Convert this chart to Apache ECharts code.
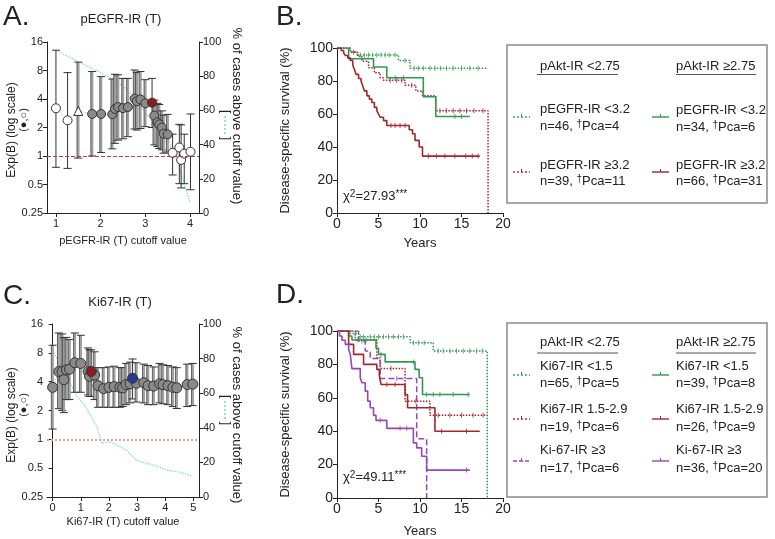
<!DOCTYPE html>
<html>
<head>
<meta charset="utf-8">
<script src="https://cdn.jsdelivr.net/npm/echarts@6/dist/echarts.min.js"></script>
<style>
  html, body { margin: 0; padding: 0; background: #fff; }
  #chart { width: 775px; height: 539px; }
</style>
</head>
<body>
<div id="chart"></div>
<script>
var FONT = '"Liberation Sans", Arial, Helvetica, sans-serif';

// ---- A: pEGFR-IR (T) cutoff scan
var aCut  = [1.0, 1.26, 1.5, 1.81, 2.01, 2.26, 2.32, 2.39, 2.5, 2.61, 2.76, 2.81, 2.89, 3.0, 3.15, 3.2, 3.27, 3.31, 3.37, 3.41, 3.5, 3.61, 3.76, 3.8, 3.87, 4.01];
var aExpB = [3.19, 2.38, 2.99, 2.78, 2.78, 2.76, 3.14, 3.29, 3.2, 3.29, 4.03, 3.78, 3.96, 3.6, 3.66, 2.67, 2.27, 2.16, 1.99, 1.72, 1.69, 1.08, 1.23, 0.91, 1.06, 1.11];
var aLow  = [0.76, 0.74, 0.95, 1.0, 1.09, 1.19, 1.36, 1.47, 1.52, 1.6, 1.93, 1.88, 1.95, 2.04, 2.0, 1.31, 1.26, 1.2, 1.16, 1.07, 1.1, 0.63, 0.51, 0.46, 0.51, 0.44];
var aHigh = [13.1, 7.6, 9.8, 7.8, 6.9, 6.5, 7.3, 7.2, 6.6, 6.6, 8.1, 7.6, 7.8, 6.4, 6.6, 3.9, 3.6, 3.5, 3.0, 2.7, 2.75, 1.7, 2.16, 2.13, 1.7, 2.78];
var aKind = ['open', 'open', 'tri', 'gray', 'gray', 'gray', 'gray', 'gray', 'gray', 'gray', 'gray', 'gray', 'gray', 'gray', 'red',
             'gray', 'gray', 'gray', 'gray', 'gray', 'gray', 'open', 'open', 'open', 'open', 'open'];
var aPctX = [1.0, 1.93, 2.29, 2.6, 2.9, 3.2, 3.33, 3.5, 3.71, 3.82, 4.0];
var aPct  = [95, 83, 78, 72, 62, 52, 47, 40, 33, 21, 6];

// ---- C: Ki67-IR (T) cutoff scan
var cCut  = [0, 0.22, 0.34, 0.40, 0.49, 0.60, 0.79, 1.0, 1.26, 1.31, 1.37, 1.49, 1.61, 1.81, 2.0, 2.19, 2.39, 2.49, 2.61, 2.75, 2.84, 2.98, 3.24, 3.39, 3.59, 3.80, 3.92, 4.10, 4.27, 4.41, 4.78, 4.98];
var cExpB = [3.49, 5.1, 5.1, 4.2, 5.3, 5.4, 6.3, 6.2, 5.1, 4.55, 5.1, 4.7, 3.63, 3.38, 3.49, 3.55, 3.49, 3.45, 3.73, 3.8, 4.34, 3.85, 3.9, 3.63, 3.6, 3.8, 3.72, 3.63, 3.49, 3.45, 3.73, 3.77];
var cLow  = [1.28, 2.09, 2.0, 1.9, 2.6, 2.6, 3.1, 3.1, 2.9, 2.8, 2.8, 2.6, 2.16, 2.16, 2.16, 2.16, 2.16, 2.2, 2.3, 2.4, 2.64, 2.45, 2.4, 2.3, 2.3, 2.4, 2.35, 2.3, 2.2, 2.1, 2.2, 2.25];
var cHigh = [9.6, 12.9, 12.6, 11.5, 11.6, 11.0, 12.9, 12.2, 9.0, 8.6, 8.6, 8.2, 5.6, 5.6, 5.7, 5.8, 5.6, 5.6, 6.2, 6.4, 6.9, 6.3, 6.1, 5.9, 5.7, 6.2, 6.0, 5.9, 5.7, 5.6, 6.1, 6.2];
var cKind = ['gray', 'gray', 'gray', 'gray', 'gray', 'gray', 'gray', 'gray', 'gray', 'gray', 'red', 'gray', 'gray', 'gray', 'gray', 'gray',
             'gray', 'gray', 'gray', 'gray', 'blue', 'gray', 'gray', 'gray', 'gray', 'gray', 'gray', 'gray', 'gray', 'gray', 'gray', 'gray'];
var cPctX = [0, 0.40, 0.87, 1.1, 1.58, 1.75, 2.05, 2.63, 2.99, 3.69, 4.04, 4.5, 4.97];
var cPct  = [84.7, 73, 58, 54, 40.6, 31, 32, 27, 21, 18, 15.5, 14.5, 12];

// ---- B: survival by pAkt / pEGFR
var bGrnDotT = [0, 1.6, 2.4, 7.4, 8.8, 18.2];
var bGrnDotS = [100, 97.8, 95.7, 92.5, 87.7, 87.7];
var bGrnDotC = [2.8, 3.3, 3.8, 4.3, 4.8, 5.3, 5.8, 6.3, 7.0, 8.2, 9.3, 9.8, 10.4, 11.2, 11.8, 12.5, 13.2, 14.0, 15.0, 16.0, 17.0];
var bGrnSolT = [0, 1.4, 4.4, 6.0, 10.4, 11.9, 16.0];
var bGrnSolS = [100, 93.5, 88.5, 82, 70.5, 58.5, 58.5];
var bGrnSolC = [7.0, 8.0, 14.2, 15.0];
var bRedDotT = [0, 1.6, 2.5, 3.0, 3.8, 4.5, 5.2, 5.6, 8.2, 9.5, 10.3, 11.9, 18.2, 18.2];
var bRedDotS = [100, 97.5, 95, 92, 88, 85, 82, 80.5, 77.5, 74, 71, 62, 62, 0];
var bRedDotC = [2.0, 6.4, 7.2, 7.8, 9.0, 12.4, 13.2, 14.0, 14.8, 15.6, 16.5, 17.6];
var bRedSolT = [0, 0.5, 0.8, 1.0, 1.3, 1.6, 1.9, 2.1, 2.3, 2.6, 2.9, 3.1, 3.3, 3.6, 3.9, 4.2, 4.5, 4.8, 5.0, 5.2, 5.6, 6.0, 8.7, 9.1, 9.4, 9.9, 10.3, 17.2];
var bRedSolS = [100, 98.5, 97, 95.5, 94, 92.5, 89.5, 87, 84, 81.5, 80, 77, 74, 71, 69, 67, 64, 62, 60, 58, 56, 53, 50.5, 48, 44, 40, 34.5, 34.5];
var bRedSolC = [6.5, 7.0, 7.6, 8.2, 11.0, 12.0, 13.0, 14.2, 15.5, 16.3, 17.0];

// ---- D: survival by pAkt / Ki67
var dGrnDotT = [0, 1.4, 2.6, 8.8, 11.6, 18.1, 18.1];
var dGrnDotS = [100, 98.5, 96.5, 93, 88, 88, 0];
var dGrnDotC = [2.2, 2.8, 3.2, 4.0, 4.5, 5.0, 5.6, 6.2, 6.8, 7.4, 8.0, 9.2, 9.8, 10.5, 12.2, 12.8, 13.6, 14.4, 15.2, 16.0, 16.8, 17.5];
var dGrnSolT = [0, 1.4, 1.8, 4.7, 5.0, 5.8, 9.4, 9.9, 10.3, 16.0];
var dGrnSolS = [100, 97, 94.6, 89.7, 86, 81.5, 77, 72, 62, 62];
var dGrnSolC = [2.5, 3.5, 5.3, 9.2, 10.8, 11.6, 12.4, 14.0, 15.8];
var dRedSolT = [0, 1.4, 2.0, 3.2, 4.8, 5.1, 5.3, 8.2, 8.5, 11.8, 17.2];
var dRedSolS = [100, 92, 86, 80, 77, 73.5, 68, 62, 54, 40, 40];
var dRedSolC = [6.0, 7.0, 12.6, 15.6];
var dRedDotT = [0, 2.2, 4.8, 5.2, 8.2, 11.2, 18.1];
var dRedDotS = [100, 94.7, 84, 77.6, 58, 49.5, 49.5];
var dRedDotC = [6.5, 9.5, 12.2, 13.6, 15.0, 16.4, 17.6];
var dPurSolT = [0, 0.3, 0.6, 1.0, 1.4, 1.6, 1.8, 2.8, 3.0, 3.4, 3.7, 4.0, 4.4, 4.7, 6.0, 9.2, 9.6, 10.2, 10.8, 16.0];
var dPurSolS = [100, 97, 94.5, 92, 89, 86, 77.5, 72, 69, 64, 58, 54, 49.5, 46.5, 41.7, 33, 30, 25, 16.7, 16.7];
var dPurSolC = [5.2, 7.6, 8.4, 15.6];
var dPurDshT = [0, 2.6, 3.4, 4.0, 5.2, 9.6, 10.8, 10.8];
var dPurDshS = [100, 94, 88, 83.5, 71.5, 35.5, 35.5, 0];
var dPurDshC = [3.0, 7.2];

var GREEN = '#2e9a50', RED = '#a3262c', PURPLE = '#9547b3', CYAN = '#7fd6cf';

function pairs(xs, ys) {
  return xs.map(function (x, i) { return [x, ys[i]]; });
}
function pick(xs, ys, kinds, k) {
  var out = [];
  for (var i = 0; i < xs.length; i++) if (kinds[i] === k) out.push([xs[i], ys[i]]);
  return out;
}
function survAt(T, S, t) {
  var s = S[0];
  for (var i = 0; i < T.length; i++) { if (T[i] <= t) s = S[i]; else break; }
  return s;
}

var axisLineStyle = { show: true, lineStyle: { color: '#222', width: 1 } };
var tickStyle = { show: true, length: 4, lineStyle: { color: '#222' } };

function xAxisCut(grid, min, max, ticks) {
  return {
    type: 'value', gridIndex: grid, min: min, max: max,
    axisLine: axisLineStyle, axisTick: Object.assign({ customValues: ticks }, tickStyle),
    axisLabel: { customValues: ticks, fontSize: 11, color: '#222', fontFamily: FONT, margin: 5 },
    splitLine: { show: false }
  };
}
function yAxisLog(grid) {
  return {
    type: 'log', logBase: 2, gridIndex: grid, min: 0.25, max: 16,
    axisLine: axisLineStyle, axisTick: tickStyle,
    axisLabel: { fontSize: 11, color: '#222', fontFamily: FONT, margin: 4 },
    splitLine: { show: false }, minorTick: { show: false }
  };
}
function yAxisPct(grid) {
  return {
    type: 'value', gridIndex: grid, position: 'right', min: 0, max: 100, interval: 20,
    axisLine: axisLineStyle, axisTick: tickStyle,
    axisLabel: { fontSize: 11, color: '#222', fontFamily: FONT, margin: 4 },
    splitLine: { show: false }
  };
}
function xAxisYears(grid) {
  return {
    type: 'value', gridIndex: grid, min: 0, max: 20, interval: 5,
    axisLine: axisLineStyle, axisTick: tickStyle,
    axisLabel: { fontSize: 14, color: '#222', fontFamily: FONT, margin: 4 },
    splitLine: { show: false }
  };
}
function yAxisSurv(grid) {
  return {
    type: 'value', gridIndex: grid, min: 0, max: 100, interval: 20,
    name: 'Disease-specific survival (%)', nameLocation: 'middle', nameGap: 45,
    nameTextStyle: { fontSize: 13, color: '#222', fontFamily: FONT },
    axisLine: axisLineStyle, axisTick: tickStyle,
    axisLabel: { fontSize: 14, color: '#222', fontFamily: FONT, margin: 4 },
    splitLine: { show: false }
  };
}

function errorBars(cut, lo, hi, kinds, xi, yi) {
  return {
    type: 'custom', xAxisIndex: xi, yAxisIndex: yi, z: 3, silent: true,
    data: cut.map(function (x, i) { return [x, lo[i], hi[i]]; }),
    encode: { x: 0, y: [1, 2] },
    renderItem: function (params, api) {
      var top = api.coord([api.value(0), api.value(2)]);
      var bot = api.coord([api.value(0), api.value(1)]);
      var k = kinds[params.dataIndex];
      var heavy = (k === 'gray' || k === 'tri');
      var kids = [];
      if (heavy) {
        kids.push({ type: 'line', shape: { x1: top[0], y1: top[1], x2: bot[0], y2: bot[1] },
          style: { stroke: '#a2a2a2', lineWidth: 2.5 } });
        kids.push({ type: 'line', shape: { x1: top[0] - 1.3, y1: top[1], x2: bot[0] - 1.3, y2: bot[1] },
          style: { stroke: '#444', lineWidth: 0.8 } });
      } else {
        kids.push({ type: 'line', shape: { x1: top[0], y1: top[1], x2: bot[0], y2: bot[1] },
          style: { stroke: '#333', lineWidth: 1 } });
      }
      [top, bot].forEach(function (p) {
        kids.push({ type: 'line', shape: { x1: p[0] - 4, y1: p[1], x2: p[0] + 4, y2: p[1] },
          style: { stroke: '#333', lineWidth: 1 } });
      });
      return { type: 'group', children: kids };
    }
  };
}

function pointSeries(data, xi, yi, symbol, fill, size) {
  return {
    type: 'scatter', xAxisIndex: xi, yAxisIndex: yi, z: 4, silent: true,
    data: data, symbol: symbol, symbolSize: size,
    itemStyle: { color: fill, borderColor: '#333', borderWidth: 1, opacity: 1 }
  };
}

function scanSeries(cut, expb, lo, hi, kinds, pctX, pct, xi, yi, yr, refStyle, size) {
  return [
    { type: 'line', xAxisIndex: xi, yAxisIndex: yr, data: pairs(pctX, pct), symbol: 'none', z: 1, silent: true,
      lineStyle: { color: CYAN, width: 1.3, type: 'dotted' } },
    { type: 'line', xAxisIndex: xi, yAxisIndex: yi, data: pairs(cut, expb), symbol: 'none', z: 2, silent: true,
      lineStyle: { color: '#b5b5b5', width: 1, type: 'dotted' },
      markLine: { silent: true, symbol: 'none', label: { show: false }, data: [{ yAxis: 1 }], lineStyle: refStyle } },
    errorBars(cut, lo, hi, kinds, xi, yi),
    pointSeries(pick(cut, expb, kinds, 'gray'), xi, yi, 'circle', '#8a8a8a', size),
    pointSeries(pick(cut, expb, kinds, 'open'), xi, yi, 'circle', '#ffffff', size),
    pointSeries(pick(cut, expb, kinds, 'tri'), xi, yi, 'triangle', '#ffffff', size),
    pointSeries(pick(cut, expb, kinds, 'red'), xi, yi, 'circle', '#8e1c1f', size),
    pointSeries(pick(cut, expb, kinds, 'blue'), xi, yi, 'circle', '#2c3b8f', size)
  ];
}

function kmSeries(T, S, C, color, type, xi, yi) {
  return [
    { type: 'line', xAxisIndex: xi, yAxisIndex: yi, data: pairs(T, S), step: 'end', symbol: 'none', silent: true, z: 3,
      lineStyle: { color: color, width: type === 'solid' ? 1.6 : 1.5, type: type } },
    { type: 'scatter', xAxisIndex: xi, yAxisIndex: yi, silent: true, z: 3,
      data: C.map(function (t) { return [t, survAt(T, S, t)]; }),
      symbol: 'rect', symbolSize: [1, 5], itemStyle: { color: color } }
  ];
}

var series = [].concat(
  scanSeries(aCut, aExpB, aLow, aHigh, aKind, aPctX, aPct, 0, 0, 1,
    { color: '#b2443a', width: 1, type: 'dashed' }, 9),
  scanSeries(cCut, cExpB, cLow, cHigh, cKind, cPctX, cPct, 2, 3, 4,
    { color: '#e4a48e', width: 2, type: 'dotted' }, 10),
  kmSeries(bGrnDotT, bGrnDotS, bGrnDotC, GREEN, 'dotted', 1, 2),
  kmSeries(bRedDotT, bRedDotS, bRedDotC, RED, 'dotted', 1, 2),
  kmSeries(bGrnSolT, bGrnSolS, bGrnSolC, GREEN, 'solid', 1, 2),
  kmSeries(bRedSolT, bRedSolS, bRedSolC, RED, 'solid', 1, 2),
  kmSeries(dGrnDotT, dGrnDotS, dGrnDotC, GREEN, 'dotted', 3, 5),
  kmSeries(dRedDotT, dRedDotS, dRedDotC, RED, 'dotted', 3, 5),
  kmSeries(dPurDshT, dPurDshS, dPurDshC, PURPLE, 'dashed', 3, 5),
  kmSeries(dGrnSolT, dGrnSolS, dGrnSolC, GREEN, 'solid', 3, 5),
  kmSeries(dRedSolT, dRedSolS, dRedSolC, RED, 'solid', 3, 5),
  kmSeries(dPurSolT, dPurSolS, dPurSolC, PURPLE, 'solid', 3, 5)
);

// ---- text and legend boxes
function txt(x, y, str, size, extra) {
  var o = { type: 'text', x: x, y: y, silent: true, z: 10,
    style: { text: str, fontSize: size, fontFamily: FONT, fill: '#222', align: 'left', verticalAlign: 'middle',
      rich: {
        s: { fontSize: Math.round(size * 0.75), fontFamily: FONT, fill: '#222', verticalAlign: 'top' }
      } } };
  if (extra) {
    if (extra.align) o.style.align = extra.align;
    if (extra.rotation !== undefined) o.rotation = extra.rotation;
  }
  return o;
}
function seg(x1, y1, x2, y2, color, width, dash) {
  return { type: 'line', silent: true, z: 10, shape: { x1: x1, y1: y1, x2: x2, y2: y2 },
    style: { stroke: color, lineWidth: width, lineDash: dash || null } };
}
function sample(x, y, color, dash) {
  return [seg(x, y, x + 17, y, color, 1.4, dash), seg(x + 8.5, y - 3, x + 8.5, y, color, 1)];
}
function box(x, y, w, h) {
  return { type: 'rect', silent: true, z: 9, shape: { x: x, y: y, width: w, height: h },
    style: { fill: '#fff', stroke: '#8a8a8a', lineWidth: 1.5 } };
}

var up = Math.PI / 2;
var graphic = [
  txt(3, 17, 'A.', 28), txt(276, 17, 'B.', 28), txt(3, 296, 'C.', 28), txt(276, 295, 'D.', 28),
  txt(121, 19, 'pEGFR-IR (T)', 13, { align: 'center' }),
  txt(120, 302, 'Ki67-IR (T)', 13, { align: 'center' }),
  txt(123, 241, 'pEGFR-IR (T) cutoff value', 11, { align: 'center' }),
  txt(123, 522, 'Ki67-IR (T) cutoff value', 11, { align: 'center' }),
  txt(420, 243, 'Years', 13, { align: 'center' }),
  txt(420, 531, 'Years', 13, { align: 'center' }),
  txt(12, 130, 'Exp(B) (log scale)', 12, { align: 'center', rotation: up }),
  txt(24, 120, '(●,○)', 11, { align: 'center', rotation: up }),
  txt(12, 415, 'Exp(B) (log scale)', 12, { align: 'center', rotation: up }),
  txt(24, 405, '(●,○)', 11, { align: 'center', rotation: up }),
  txt(237, 116, '% of cases above cutoff value)', 13, { align: 'center', rotation: -up }),
  txt(237, 415, '% of cases above cutoff value)', 13, { align: 'center', rotation: -up }),
  txt(225, 125, '[       ]', 12, { align: 'center', rotation: -up }),
  seg(225, 116, 225, 134, CYAN, 1.5, [2, 2]),
  txt(225, 410, '[       ]', 12, { align: 'center', rotation: -up }),
  seg(225, 401, 225, 419, CYAN, 1.5, [2, 2]),
  txt(343, 196, 'χ{s|2}=27.93{s|***}', 13),
  txt(343, 477, 'χ{s|2}=49.11{s|***}', 13),

  box(507, 45, 260, 158),
  txt(540, 66, 'pAkt-IR <2.75', 13), txt(676, 66, 'pAkt-IR ≥2.75', 13),
  seg(537, 74.5, 618, 74.5, '#555', 1), seg(676, 74.5, 756, 74.5, '#555', 1),
  txt(540, 109, 'pEGFR-IR <3.2', 13), txt(540, 126, 'n=46, {s|†}Pca=4', 13),
  txt(676, 110, 'pEGFR-IR <3.2', 13), txt(676, 127, 'n=34, {s|†}Pca=6', 13),
  txt(540, 165, 'pEGFR-IR ≥3.2', 13), txt(540, 181, 'n=39, {s|†}Pca=11', 13),
  txt(676, 165, 'pEGFR-IR ≥3.2', 13), txt(676, 181, 'n=66, {s|†}Pca=31', 13),

  box(507, 323, 260, 174),
  txt(540, 342, 'pAkt-IR <2.75', 13), txt(676, 342, 'pAkt-IR ≥2.75', 13),
  seg(537, 353, 618, 353, '#555', 1), seg(676, 353, 756, 353, '#555', 1),
  txt(540, 366, 'Ki67-IR <1.5', 13), txt(540, 383, 'n=65, {s|†}Pca=5', 13),
  txt(676, 366, 'Ki67-IR <1.5', 13), txt(676, 383, 'n=39, {s|†}Pca=8', 13),
  txt(540, 409, 'Ki67-IR 1.5-2.9', 13), txt(540, 427, 'n=19, {s|†}Pca=6', 13),
  txt(676, 409, 'Ki67-IR 1.5-2.9', 13), txt(676, 427, 'n=26, {s|†}Pca=9', 13),
  txt(540, 450, 'Ki-67-IR ≥3', 13), txt(540, 468, 'n=17, {s|†}Pca=6', 13),
  txt(676, 450, 'Ki-67-IR ≥3', 13), txt(676, 468, 'n=36, {s|†}Pca=20', 13)
].concat(
  sample(513, 117, GREEN, [2, 2]), sample(652, 117, GREEN),
  sample(513, 172, RED, [2, 2]), sample(652, 172, RED),
  sample(513, 375, GREEN, [2, 2]), sample(652, 375, GREEN),
  sample(513, 419, RED, [2, 2]), sample(652, 419, RED),
  sample(513, 461, PURPLE, [4, 2]), sample(652, 461, PURPLE)
);

var chart = echarts.init(document.getElementById('chart'), null, { renderer: 'canvas' });
chart.setOption({
  backgroundColor: '#ffffff',
  animation: false,
  textStyle: { fontFamily: FONT },
  grid: [
    { left: 47, top: 42, width: 152, height: 171 },
    { left: 337, top: 48, width: 166, height: 165 },
    { left: 47, top: 324, width: 152, height: 173 },
    { left: 337, top: 331, width: 166, height: 167 }
  ],
  xAxis: [
    xAxisCut(0, 0.8, 4.2, [1, 2, 3, 4]),
    xAxisYears(1),
    xAxisCut(2, -0.2, 5.2, [0, 1, 2, 3, 4, 5]),
    xAxisYears(3)
  ],
  yAxis: [
    yAxisLog(0), yAxisPct(0), yAxisSurv(1),
    yAxisLog(2), yAxisPct(2), yAxisSurv(3)
  ],
  graphic: graphic,
  series: series
});
</script>
</body>
</html>
